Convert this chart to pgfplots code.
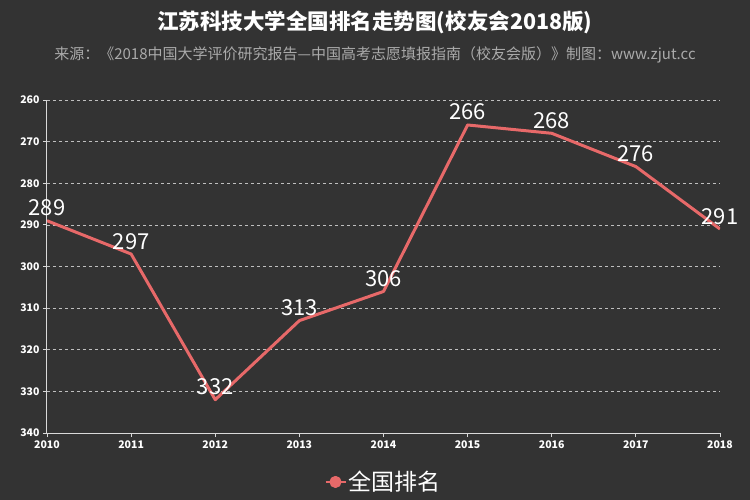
\documentclass[border=0pt]{standalone}
\usepackage{fontspec}
\setmainfont{Noto Sans CJK SC}
\usepackage{pgfplots}
\pgfplotsset{compat=1.18}
\definecolor{bg}{RGB}{51,51,51}
\definecolor{rank}{RGB}{231,105,105}
\definecolor{subt}{RGB}{170,170,170}
\begin{document}
\begin{tikzpicture}[x=1pt,y=1pt]
\fill[bg] (0,0) rectangle (750,500);
\useasboundingbox (0,0) rectangle (750,500);
\node[text=white,font=\fontsize{21.5}{22}\selectfont\bfseries] at (375,478) {江苏科技大学全国排名走势图(校友会2018版)};
\node[text=subt,font=\fontsize{15}{15}\selectfont] at (375,445) {来源：《2018中国大学评价研究报告—中国高考志愿填报指南（校友会版）》制图：www.zjut.cc};
\begin{axis}[
    at={(47pt,67pt)}, anchor=south west,
    scale only axis, width=673pt, height=333pt,
    xmin=2010, xmax=2018, ymin=260, ymax=340,
    y dir=reverse,
    xtick={2010,...,2018}, ytick={260,270,...,340},
    xticklabel style={/pgf/number format/1000 sep={}},
    /pgf/number format/assume math mode=true,
    tick label style={font=\fontsize{10.5}{11}\selectfont\bfseries, text=white},
    axis x line*=bottom, axis y line*=left,
    axis line style={draw=white!85!black, line width=1pt, -},
    tick style={draw=white!85!black, line width=0.8pt},
    tick align=outside, major tick length=4pt,
    ymajorgrids, grid style={dashed, white!75!black, line width=0.6pt},
    nodes near coords,
    every node near coord/.append style={anchor=base, yshift=5pt, inner sep=0pt,
        text=white, font=\fontsize{22}{22}\selectfont},
    legend style={at={(0.5,-0.147)}, anchor=center, draw=none, fill=none,
        text=white, font=\fontsize{23}{23}\selectfont},
    legend image code/.code={
        \draw[#1, line width=1.5pt] (0pt,0pt) -- (20pt,0pt);
        \fill[rank] (10pt,0pt) circle (4.5pt);},
  ]
  \addplot[rank, line width=3pt, mark=none, line join=round] coordinates {
    (2010,289)(2011,297)(2012,332)(2013,313)(2014,306)
    (2015,266)(2016,268)(2017,276)(2018,291)
  };
  \addlegendentry{全国排名}
\end{axis}
\end{tikzpicture}
\end{document}
